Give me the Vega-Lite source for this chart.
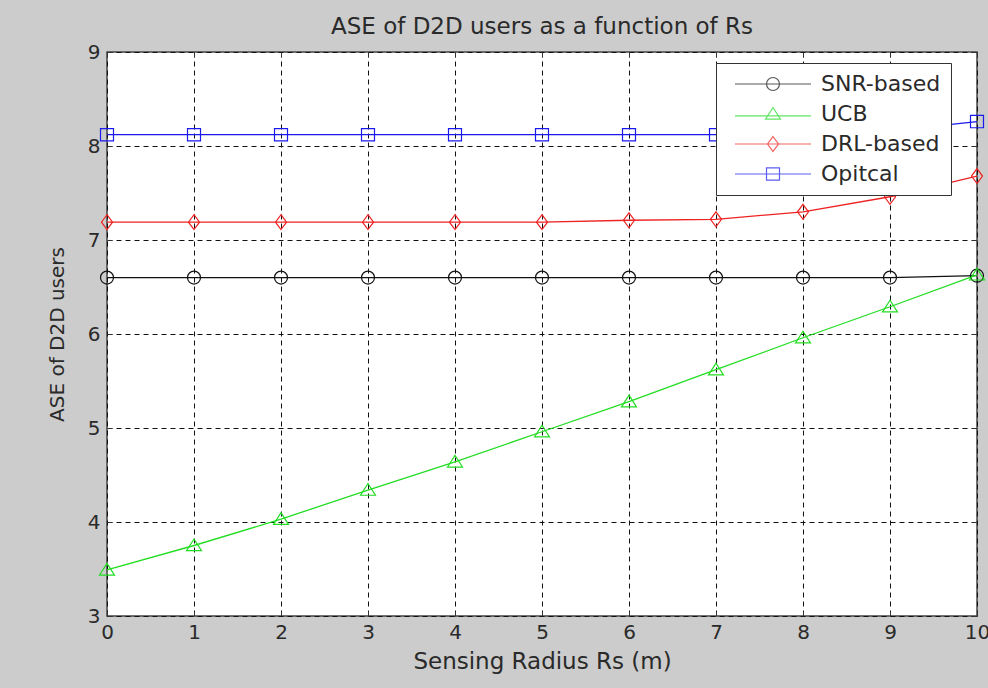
{
  "$schema": "https://vega.github.io/schema/vega-lite/v6.json",
  "width": 870,
  "height": 564,
  "autosize": {"type": "none"},
  "padding": {"left": 107, "top": 52, "right": 11, "bottom": 72},
  "background": "#cccccc",
  "title": {"text": "ASE of D2D users as a function of Rs", "fontSize": 23, "font": "DejaVu Sans", "fontWeight": "normal", "color": "#2a2a2a", "offset": 3},
  "config": {"view": {"fill": "white", "stroke": "#444444", "strokeWidth": 1.5}},
  "data": {"values": [
    {"rs": 0, "ase": 6.6, "series": "SNR-based"},
    {"rs": 1, "ase": 6.6, "series": "SNR-based"},
    {"rs": 2, "ase": 6.6, "series": "SNR-based"},
    {"rs": 3, "ase": 6.6, "series": "SNR-based"},
    {"rs": 4, "ase": 6.6, "series": "SNR-based"},
    {"rs": 5, "ase": 6.6, "series": "SNR-based"},
    {"rs": 6, "ase": 6.6, "series": "SNR-based"},
    {"rs": 7, "ase": 6.6, "series": "SNR-based"},
    {"rs": 8, "ase": 6.6, "series": "SNR-based"},
    {"rs": 9, "ase": 6.6, "series": "SNR-based"},
    {"rs": 10, "ase": 6.62, "series": "SNR-based"},
    {"rs": 0, "ase": 3.49, "series": "UCB"},
    {"rs": 1, "ase": 3.75, "series": "UCB"},
    {"rs": 2, "ase": 4.03, "series": "UCB"},
    {"rs": 3, "ase": 4.34, "series": "UCB"},
    {"rs": 4, "ase": 4.64, "series": "UCB"},
    {"rs": 5, "ase": 4.96, "series": "UCB"},
    {"rs": 6, "ase": 5.28, "series": "UCB"},
    {"rs": 7, "ase": 5.62, "series": "UCB"},
    {"rs": 8, "ase": 5.96, "series": "UCB"},
    {"rs": 9, "ase": 6.29, "series": "UCB"},
    {"rs": 10, "ase": 6.63, "series": "UCB"},
    {"rs": 0, "ase": 7.19, "series": "DRL-based"},
    {"rs": 1, "ase": 7.19, "series": "DRL-based"},
    {"rs": 2, "ase": 7.19, "series": "DRL-based"},
    {"rs": 3, "ase": 7.19, "series": "DRL-based"},
    {"rs": 4, "ase": 7.19, "series": "DRL-based"},
    {"rs": 5, "ase": 7.19, "series": "DRL-based"},
    {"rs": 6, "ase": 7.21, "series": "DRL-based"},
    {"rs": 7, "ase": 7.22, "series": "DRL-based"},
    {"rs": 8, "ase": 7.3, "series": "DRL-based"},
    {"rs": 9, "ase": 7.46, "series": "DRL-based"},
    {"rs": 10, "ase": 7.68, "series": "DRL-based"},
    {"rs": 0, "ase": 8.12, "series": "Opitcal"},
    {"rs": 1, "ase": 8.12, "series": "Opitcal"},
    {"rs": 2, "ase": 8.12, "series": "Opitcal"},
    {"rs": 3, "ase": 8.12, "series": "Opitcal"},
    {"rs": 4, "ase": 8.12, "series": "Opitcal"},
    {"rs": 5, "ase": 8.12, "series": "Opitcal"},
    {"rs": 6, "ase": 8.12, "series": "Opitcal"},
    {"rs": 7, "ase": 8.12, "series": "Opitcal"},
    {"rs": 8, "ase": 8.12, "series": "Opitcal"},
    {"rs": 9, "ase": 8.16, "series": "Opitcal"},
    {"rs": 10, "ase": 8.26, "series": "Opitcal"}
  ]},
  "resolve": {
    "scale": {"color": "independent", "shape": "independent"},
    "axis": {"x": "independent", "y": "independent"}
  },
  "layer": [
    {
      "mark": {"type": "line", "strokeWidth": 1.3},
      "encoding": {
        "x": {"field": "rs", "type": "quantitative", "scale": {"domain": [0, 10], "nice": false},
          "axis": {"orient": "bottom", "values": [0,1,2,3,4,5,6,7,8,9,10], "title": "Sensing Radius Rs (m)",
            "labelFontSize": 20, "labelFont": "DejaVu Sans", "labelColor": "#2a2a2a", "labelPadding": 11,
            "labelFlush": false, "labelOverlap": false,
            "tickSize": -5, "tickColor": "#333333", "domain": false,
            "grid": true, "gridColor": "#111111", "gridDash": [5, 4], "gridOpacity": 1, "gridWidth": 1,
            "titleFontSize": 23, "titleFont": "DejaVu Sans", "titleFontWeight": "normal", "titleColor": "#2a2a2a", "titlePadding": 8}},
        "y": {"field": "ase", "type": "quantitative", "scale": {"domain": [3, 9], "nice": false, "zero": false},
          "axis": {"orient": "left", "values": [3,4,5,6,7,8,9], "title": "ASE of D2D users",
            "labelFontSize": 20, "labelFont": "DejaVu Sans", "labelColor": "#2a2a2a", "labelPadding": 12,
            "labelFlush": false, "labelOverlap": false,
            "tickSize": -5, "tickColor": "#333333", "domain": false,
            "grid": true, "gridColor": "#111111", "gridDash": [5, 4], "gridOpacity": 1, "gridWidth": 1,
            "titleFontSize": 20, "titleFont": "DejaVu Sans", "titleFontWeight": "normal", "titleColor": "#2a2a2a", "titlePadding": 20}},
        "color": {"field": "series", "type": "nominal", "legend": null,
          "scale": {"domain": ["SNR-based", "UCB", "DRL-based", "Opitcal"], "range": ["#111111", "#22dd22", "#ee2222", "#1a1aee"]}},
        "order": {"field": "rs", "type": "quantitative"}
      }
    },
    {
      "mark": {"type": "point", "filled": false, "size": 169, "strokeWidth": 1.2, "opacity": 1},
      "encoding": {
        "x": {"field": "rs", "type": "quantitative", "scale": {"domain": [0, 10], "nice": false},
          "axis": {"orient": "top", "values": [0,1,2,3,4,5,6,7,8,9,10], "title": null, "labels": false, "domain": false, "grid": false, "tickSize": -5, "tickColor": "#333333"}},
        "y": {"field": "ase", "type": "quantitative", "scale": {"domain": [3, 9], "nice": false, "zero": false},
          "axis": {"orient": "right", "values": [3,4,5,6,7,8,9], "title": null, "labels": false, "domain": false, "grid": false, "tickSize": -5, "tickColor": "#333333"}},
        "color": {"field": "series", "type": "nominal", "legend": null,
          "scale": {"domain": ["SNR-based", "UCB", "DRL-based", "Opitcal"], "range": ["#111111", "#22dd22", "#ee2222", "#1a1aee"]}},
        "shape": {"field": "series", "type": "nominal", "legend": null,
          "scale": {"domain": ["SNR-based", "UCB", "DRL-based", "Opitcal"],
            "range": ["M1,0A1,1 0 1,1 -1,0A1,1 0 1,1 1,0Z", "M0,-1L1.15,0.8L-1.15,0.8Z", "M0,-1.15L0.85,0L0,1.15L-0.85,0Z", "M-1,-0.95H1V0.95H-1Z"]}}
      }
    },
    {
      "mark": {"type": "point", "filled": false, "size": 0, "strokeWidth": 1.2},
      "encoding": {
        "x": {"field": "rs", "type": "quantitative", "scale": {"domain": [0, 10], "nice": false}, "axis": null},
        "y": {"field": "ase", "type": "quantitative", "scale": {"domain": [3, 9], "nice": false, "zero": false}, "axis": null},
        "color": {"field": "series", "type": "nominal",
          "scale": {"domain": ["SNR-based", "UCB", "DRL-based", "Opitcal"], "range": ["#111111", "#22dd22", "#ee2222", "#1a1aee"]},
          "legend": {"orient": "none", "legendX": 609, "legendY": 11, "title": null, "padding": 10,
            "fillColor": "white", "strokeColor": "#333333", "labelFontSize": 22, "labelFont": "DejaVu Sans", "labelColor": "#2a2a2a",
            "symbolSize": 169, "symbolOffset": 36, "labelOffset": 37, "rowPadding": 8, "symbolStrokeWidth": 1.2}},
        "shape": {"field": "series", "type": "nominal",
          "scale": {"domain": ["SNR-based", "UCB", "DRL-based", "Opitcal"],
            "range": ["M-5.85,0H5.85M1,0A1,1 0 1,1 -1,0A1,1 0 1,1 1,0Z", "M-5.85,0.3H5.85M0,-1L1.15,0.8L-1.15,0.8Z", "M-5.85,0H5.85M0,-1.15L0.85,0L0,1.15L-0.85,0Z", "M-5.85,0H5.85M-1,-0.95H1V0.95H-1Z"]},
          "legend": {"orient": "none", "legendX": 609, "legendY": 11, "title": null, "padding": 10,
            "fillColor": "white", "strokeColor": "#333333", "labelFontSize": 22, "labelFont": "DejaVu Sans", "labelColor": "#2a2a2a",
            "symbolSize": 169, "symbolOffset": 36, "labelOffset": 37, "rowPadding": 8, "symbolStrokeWidth": 1.2}}
      }
    }
  ]
}
